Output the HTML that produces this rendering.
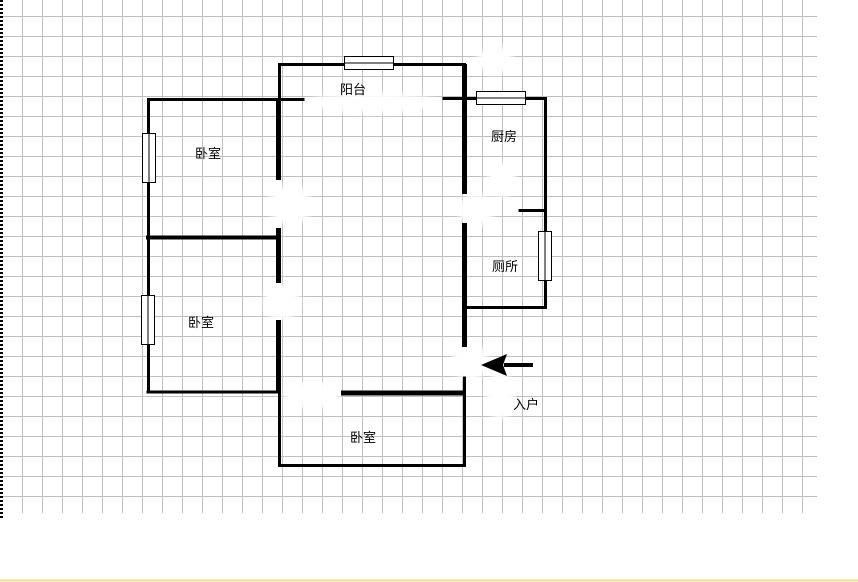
<!DOCTYPE html>
<html><head><meta charset="utf-8"><style>
html,body{margin:0;padding:0;background:#fff;width:858px;height:582px;overflow:hidden}
svg{display:block}
text{font-family:"Liberation Sans","Noto Sans CJK SC",sans-serif;font-size:13px;fill:#000}
</style></head><body>
<svg width="858" height="582" viewBox="0 0 858 582" xmlns="http://www.w3.org/2000/svg">
<defs>
<pattern id="g" x="2" y="16" width="20" height="20" patternUnits="userSpaceOnUse">
<path d="M0.5 0V20M0 0.5H20" stroke="#c0c0c0" stroke-width="1" fill="none"/>
</pattern>
<filter id="b" x="-50%" y="-50%" width="200%" height="200%"><feGaussianBlur stdDeviation="3"/></filter>
</defs>
<rect x="3" y="0" width="800" height="513" fill="url(#g)"/>
<rect x="3" y="497" width="800" height="16" fill="#fff"/>
<g stroke="#c0c0c0"><path d="M22.5 497V513M42.5 497V513M62.5 497V513M82.5 497V513M102.5 497V513M122.5 497V513M142.5 497V513M162.5 497V513M182.5 497V513M202.5 497V513M222.5 497V513M242.5 497V513M262.5 497V513M282.5 497V513M302.5 497V513M322.5 497V513M342.5 497V513M362.5 497V513M382.5 497V513M402.5 497V513M422.5 497V513M442.5 497V513M462.5 497V513M482.5 497V513M502.5 497V513M522.5 497V513M542.5 497V513M562.5 497V513M582.5 497V513M602.5 497V513M622.5 497V513M642.5 497V513M662.5 497V513M682.5 497V513M702.5 497V513M722.5 497V513M742.5 497V513M762.5 497V513M782.5 497V513M802.5 497V513"/></g>
<g stroke="#c0c0c0"><path d="M803 16.5H817M803 36.5H817M803 56.5H817M803 76.5H817M803 96.5H817M803 116.5H817M803 136.5H817M803 156.5H817M803 176.5H817M803 196.5H817M803 216.5H817M803 236.5H817M803 256.5H817M803 276.5H817M803 296.5H817M803 316.5H817M803 336.5H817M803 356.5H817M803 376.5H817M803 396.5H817M803 416.5H817M803 436.5H817M803 456.5H817M803 476.5H817M803 496.5H817"/></g>
<path d="M1.5 0V518" stroke="#000" stroke-width="3" stroke-dasharray="2 2"/>
<path d="M0 580.5H858" stroke="#f0dc8c" stroke-width="2"/>

<g fill="#fff" filter="url(#b)">
<ellipse cx="290" cy="205" rx="22" ry="20"/>
<ellipse cx="282" cy="302" rx="18" ry="18"/>
<ellipse cx="312" cy="395" rx="28" ry="14"/>
<ellipse cx="476" cy="210" rx="18" ry="16"/>
<ellipse cx="470" cy="362" rx="18" ry="18"/>
<ellipse cx="495" cy="60" rx="18" ry="14"/>
<ellipse cx="500" cy="395" rx="14" ry="24"/>
<ellipse cx="372" cy="103" rx="65" ry="10"/>
<ellipse cx="502" cy="180" rx="14" ry="18"/>
</g>

<g stroke="#000" fill="none" stroke-linecap="square">
<path d="M279.5 98V64.5H464.5V98" stroke-width="3"/>
<path d="M148.5 392V99.5H303" stroke-width="3"/>
<path d="M148 237.5H278" stroke-width="4"/>
<path d="M148 392H278" stroke-width="3"/>
<path d="M278.5 98V180M278.5 228V283M278.5 320V393" stroke-width="5" stroke-linecap="butt"/>
<path d="M279.5 393V465.5H464.5V378" stroke-width="3"/>
<path d="M341 393H466" stroke-width="5" stroke-linecap="butt"/>
<path d="M464.5 64V194M464.5 223V347" stroke-width="5" stroke-linecap="butt"/>
<path d="M444 98.5H545.5V307.5H464" stroke-width="3"/>
<path d="M520 210.5H545" stroke-width="3"/>
</g>

<g fill="#fff" stroke="#000" stroke-width="1">
<rect x="344.5" y="56.5" width="49" height="13"/><path d="M344.5 63H393.5"/>
<rect x="476.5" y="91.5" width="49" height="13"/><path d="M476.5 98H525.5"/>
<rect x="142.5" y="133.5" width="13" height="49"/><path d="M149 133.5V182.5"/>
<rect x="141.5" y="295.5" width="13" height="49"/><path d="M148 295.5V344.5"/>
<rect x="538.5" y="231.5" width="13" height="49"/><path d="M545 231.5V280.5"/>
</g>

<path d="M533 365H504" stroke="#000" stroke-width="4"/>
<path d="M481 365L507 354L503 365L507 376Z" fill="#000"/>

<text x="340" y="94">阳台</text>
<text x="491" y="141">厨房</text>
<text x="195" y="158">卧室</text>
<text x="492" y="271">厕所</text>
<text x="188" y="327">卧室</text>
<text x="513" y="409">入户</text>
<text x="350" y="442">卧室</text>
</svg>
</body></html>
